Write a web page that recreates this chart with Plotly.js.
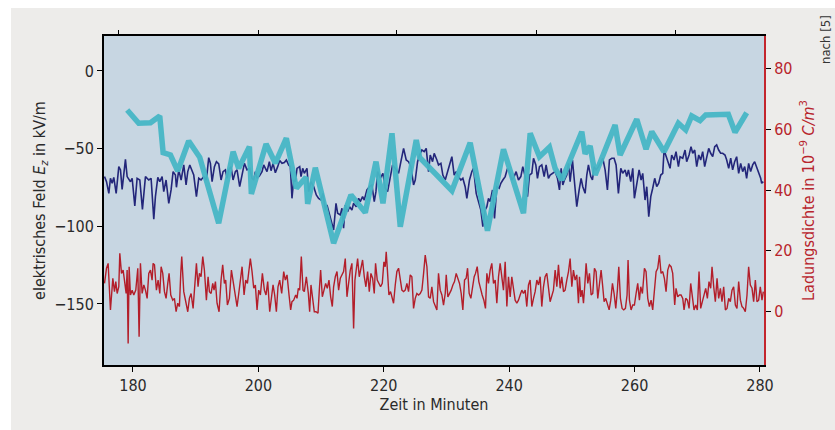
<!DOCTYPE html>
<html>
<head>
<meta charset="utf-8">
<script src="https://cdn.plot.ly/plotly-3.0.1.min.js"></script>
<style>html,body{margin:0;padding:0;background:#fff;}#chart{width:835px;height:430px;}</style>
</head>
<body>
<div id="chart"></div>
<script>
// ---- data (time in minutes) ----
const xTicks = [180, 200, 220, 240, 260, 280];
const topTicks = [177.7, 200.0, 222.1, 244.4, 266.5];
const leftTicks = [0, -50, -100, -150];
const rightTicks = [0, 20, 40, 60, 80];

// electric field Ez (kV/m), dark blue
const fieldT = [175.46,175.78,176.15,176.41,176.68,176.94,177.32,177.74,178.01,178.27,178.80,179.07,179.60,179.87,180.29,180.66,181.09,181.51,181.99,182.52,182.89,183.32,183.58,183.96,184.28,184.65,184.91,185.28,185.71,186.08,186.40,186.77,186.93,187.30,187.68,188.10,188.47,188.74,189.06,189.43,189.69,190.12,190.49,190.86,191.29,191.71,192.08,192.35,192.62,192.99,193.31,193.68,194.05,194.37,194.74,195.01,195.27,195.64,195.96,196.33,196.60,197.02,197.40,197.77,198.19,198.62,198.99,199.26,199.52,199.79,200.16,200.58,200.85,201.11,201.38,201.75,202.02,202.34,202.71,203.08,203.40,203.77,204.14,204.46,204.83,205.10,205.36,205.63,205.90,206.16,206.59,206.80,207.07,207.33,207.75,208.02,208.39,208.82,209.24,209.61,209.99,210.30,210.68,210.94,211.21,211.58,212.00,212.38,212.64,213.07,
213.33,213.59,213.86,214.23,214.55,214.92,215.19,215.61,215.99,216.25,216.62,216.89,217.31,217.74,218.11,218.48,218.75,219.01,219.44,219.86,220.23,220.61,221.03,221.40,221.83,222.36,222.73,223.16,223.58,223.95,224.33,224.75,225.02,225.39,225.71,226.08,226.45,226.77,227.14,227.41,227.78,228.04,228.47,228.73,229.11,229.42,229.80,230.17,230.49,230.86,231.23,231.55,231.92,232.29,232.61,232.98,233.25,233.67,234.05,234.31,234.74,235.11,235.48,235.80,236.17,236.44,236.70,236.97,237.34,237.66,238.03,238.40,238.67,238.99,239.36,239.73,240.05,240.42,240.79,241.11,241.48,241.86,242.17,242.55,242.92,243.24,243.61,243.88,244.25,244.51,244.83,245.20,245.58,245.89,246.26,246.53,
246.96,247.33,247.70,248.02,248.29,248.55,248.82,249.19,249.46,249.72,250.09,250.41,250.78,251.16,251.47,251.74,252.11,252.38,252.64,253.01,253.28,253.55,253.86,254.24,254.61,254.93,255.30,255.67,255.99,256.36,256.73,257.05,257.42,257.80,258.11,258.49,258.75,259.02,259.39,259.71,259.97,260.35,260.72,261.04,261.30,261.67,261.94,262.26,262.58,262.89,263.21,263.53,263.85,264.17,264.49,264.70,265.02,265.39,265.66,265.92,266.29,266.61,266.99,267.25,267.68,268.05,268.31,268.69,269.00,269.27,269.59,269.91,270.23,270.54,270.86,271.18,271.50,271.82,272.14,272.46,272.78,273.09,273.41,273.73,274.05,274.42,274.69,275.01,275.33,275.64,275.96,276.28,276.60,276.92,277.24,277.56,277.87,278.19,278.51,278.83,279.15,279.47,279.79,280.11,280.27,280.53];
const fieldE = [-68.0,-71.3,-78.8,-69.1,-72.3,-68.5,-78.8,-61.6,-63.7,-76.2,-56.9,-68.0,-71.3,-69.1,-86.9,-69.1,-70.2,-89.1,-68.0,-70.2,-69.1,-95.5,-80.9,-68.5,-71.3,-68.0,-77.7,-70.2,-85.2,-76.6,-64.8,-67.0,-74.9,-63.7,-70.2,-60.5,-73.4,-64.8,-60.5,-64.8,-67.0,-80.9,-69.1,-70.2,-68.0,-70.2,-55.8,-59.5,-71.3,-61.6,-58.4,-59.9,-70.2,-64.8,-63.7,-69.1,-63.7,-61.6,-70.2,-64.8,-63.7,-74.5,-65.9,-59.5,-63.7,-62.7,-69.1,-70.2,-64.8,-69.1,-67.6,-64.8,-60.5,-62.7,-64.8,-58.4,-64.2,-59.5,-65.5,-61.6,-57.7,-59.5,-59.0,-57.3,-60.5,-61.6,-82.0,-70.2,-71.3,-62.7,-61.6,-68.0,-62.7,-65.9,-62.7,-77.7,-71.3,-74.5,-79.8,-82.0,-83.1,-78.8,-89.5,-86.3,-90.6,-94.9,-102.4,-85.2,-91.6,-92.7,
-88.4,-101.3,-86.3,-90.6,-87.4,-89.5,-85.2,-87.4,-82.0,-84.1,-80.9,-83.1,-76.6,-74.5,-73.4,-84.1,-77.7,-64.8,-69.1,-65.9,-75.5,-77.7,-68.0,-60.5,-62.7,-65.9,-58.4,-49.8,-57.3,-58.4,-61.6,-73.4,-70.2,-58.4,-54.1,-50.9,-51.9,-49.8,-64.8,-54.1,-58.4,-53.0,-57.3,-60.5,-59.5,-67.0,-70.2,-64.8,-59.5,-55.2,-67.0,-64.8,-68.0,-70.2,-69.1,-74.5,-82.0,-70.2,-64.8,-62.7,-78.8,-85.2,-89.5,-100.2,-89.5,-87.4,-82.0,-84.1,-76.6,-94.9,-74.5,-75.5,-72.3,-70.2,-68.0,-62.7,-64.8,-70.2,-68.0,-64.8,-70.2,-68.0,-61.6,-68.0,-80.9,-67.0,-65.9,-56.2,-60.5,-69.1,-61.6,-60.5,-68.0,-60.5,-69.1,-67.0,
-65.9,-64.8,-69.1,-76.6,-62.7,-73.4,-70.2,-67.0,-59.5,-71.3,-57.3,-71.3,-87.4,-76.6,-69.1,-74.5,-78.8,-67.0,-60.5,-68.0,-70.2,-61.6,-63.7,-61.6,-58.4,-56.2,-63.7,-76.6,-57.3,-56.2,-56.2,-60.5,-78.8,-62.7,-65.9,-63.7,-68.0,-63.7,-71.3,-62.7,-82.0,-71.3,-63.7,-70.2,-65.9,-83.1,-74.5,-93.8,-80.9,-75.5,-69.1,-74.5,-72.3,-67.0,-65.9,-50.9,-55.2,-60.5,-62.7,-54.1,-57.3,-51.9,-61.6,-55.2,-56.2,-50.9,-58.4,-54.1,-48.7,-53.0,-50.9,-61.6,-54.1,-57.3,-51.9,-61.6,-55.2,-49.8,-53.0,-55.2,-48.7,-47.6,-50.9,-53.0,-53.0,-54.1,-57.3,-62.7,-56.2,-63.7,-58.4,-55.2,-65.9,-59.5,-64.8,-61.6,-69.1,-59.5,-64.8,-60.5,-58.4,-61.6,-64.8,-69.1,-72.3,-71.3];

// second field series (thick cyan), kV/m
const cyanT = [179.08,180.92,182.79,184.27,184.81,185.98,187.14,188.89,190.65,193.67,195.97,196.86,198.57,198.88,201.23,202.71,204.46,206.06,207.60,207.86,209.08,212.00,214.77,217.05,218.76,219.87,221.31,222.63,225.18,225.71,230.87,233.78,236.54,239.09,242.28,243.35,244.83,246.42,247.33,248.40,251.58,252.11,252.91,253.71,256.89,257.69,260.35,261.83,262.74,264.70,266.98,268.16,269.11,270.44,271.35,274.95,276.02,277.88];
const cyanE = [-25.1,-33.7,-33.3,-29.0,-52.6,-54.1,-64.4,-45.1,-55.6,-98.1,-52.0,-62.7,-48.7,-79.2,-47.0,-59.4,-43.3,-75.5,-68.4,-85.6,-62.3,-110.9,-79.8,-91.2,-58.4,-85.2,-40.1,-100.3,-44.4,-55.6,-77.1,-46.2,-102.8,-50.4,-91.6,-40.1,-55.2,-49.1,-62.7,-70.2,-39.1,-53.4,-48.3,-67.0,-34.8,-54.1,-31.1,-50.4,-39.1,-52.0,-33.7,-38.0,-29.0,-32.0,-28.3,-27.9,-39.5,-26.9];

// charge density (1e-9 C/m^3), red
const chargeT = [175.46,175.78,176.04,176.41,176.79,177.05,177.26,177.48,177.74,177.90,178.17,178.43,178.64,178.91,179.07,179.23,179.39,179.60,179.87,180.13,180.45,180.77,180.98,181.19,181.46,181.73,181.99,182.26,182.52,182.79,183.05,183.21,183.43,183.74,184.01,184.28,184.49,184.75,185.02,185.28,185.55,185.76,186.03,186.35,186.61,186.88,187.14,187.41,187.62,187.78,188.10,188.42,188.74,189.00,189.27,189.59,189.85,190.12,190.38,190.60,190.86,191.13,191.39,191.71,191.98,192.19,192.46,192.72,192.93,193.15,193.41,193.73,194.05,194.31,194.58,194.79,195.06,195.38,195.70,195.96,196.23,196.60,196.87,197.13,197.40,197.72,197.98,198.25,198.51,198.72,198.99,199.26,199.52,199.79,200.05,200.32,200.64,200.96,201.22,201.49,201.81,202.07,202.34,202.60,202.87,203.13,203.40,203.72,204.04,204.30,204.57,204.89,205.15,205.36,205.63,205.95,206.16,206.37,206.59,206.85,207.12,207.33,207.65,207.97,208.18,208.39,208.66,208.92,209.19,209.51,209.72,209.93,210.20,210.46,210.73,210.99,211.26,211.53,211.79,212.00,212.27,212.54,212.80,213.07,
213.59,213.86,214.13,214.39,214.66,214.92,215.19,215.40,215.61,215.83,216.09,216.36,216.62,216.89,217.15,217.42,217.69,217.95,218.22,218.48,218.69,218.96,219.23,219.49,219.76,220.02,220.23,220.39,220.61,220.82,221.08,221.35,221.56,221.83,222.09,222.36,222.63,222.89,223.16,223.42,223.69,223.95,224.22,224.48,224.75,225.02,225.28,225.55,225.81,226.08,226.35,226.61,226.88,227.14,227.41,227.67,227.94,228.20,228.47,228.73,229.00,229.27,229.53,229.80,229.96,230.22,230.49,230.75,231.02,231.28,231.55,231.82,232.08,232.35,232.61,232.88,233.14,233.36,233.62,233.89,234.15,234.42,234.63,234.90,235.16,235.43,235.69,235.96,236.22,236.44,236.70,236.97,237.23,237.50,237.77,238.03,238.30,238.56,238.83,239.09,239.36,239.63,239.89,240.16,240.42,240.69,240.95,241.22,241.48,241.75,242.02,242.28,242.55,242.81,243.08,243.34,243.61,243.88,244.14,244.41,244.67,244.94,245.20,245.47,245.73,246.00,246.26,246.53,
247.06,247.33,247.60,247.86,248.13,248.39,248.66,248.92,249.19,249.46,249.72,249.99,250.25,250.52,250.78,251.05,251.21,251.42,251.63,251.85,252.06,252.27,252.54,252.80,253.07,253.33,253.60,253.86,254.13,254.40,254.66,254.87,255.14,255.40,255.67,255.94,256.20,256.47,256.73,257.00,257.26,257.48,257.74,258.01,258.27,258.54,258.80,258.96,259.18,259.44,259.71,259.97,260.24,260.50,260.77,260.98,261.25,261.57,261.83,262.10,262.36,262.63,262.89,263.16,263.43,263.69,263.96,264.22,264.49,264.75,265.02,265.29,265.55,265.82,266.08,266.40,266.61,266.88,267.15,267.41,267.68,267.89,268.15,268.42,268.69,268.95,269.22,269.48,269.75,270.01,270.28,270.54,270.81,271.08,271.34,271.61,271.87,272.14,272.35,272.62,272.88,273.15,273.41,273.68,273.94,274.21,274.48,274.74,275.01,275.27,275.54,275.80,276.07,276.33,276.60,276.87,277.13,277.40,277.66,277.93,278.19,278.46,278.73,278.99,279.26,279.52,279.79,280.05,280.32,280.53];
const chargeQ = [9.3,14.3,15.9,0.6,11.0,6.6,9.9,6.0,8.2,19.2,12.6,13.7,10.4,6.0,13.7,-10.4,14.8,5.5,7.1,5.5,7.1,14.3,-8.2,15.9,6.0,8.8,7.1,4.4,12.6,13.7,10.4,15.9,15.4,7.1,10.4,6.0,14.8,12.6,6.6,4.4,9.3,12.6,5.5,3.8,4.4,0.0,2.8,1.7,12.6,18.1,6.6,3.8,0.0,4.4,6.0,1.1,8.2,15.9,8.2,12.6,11.5,18.1,13.7,3.8,11.5,6.6,6.0,9.3,7.1,9.9,2.8,0.0,10.4,15.4,9.3,10.4,2.2,4.4,13.7,10.4,6.0,1.7,6.0,10.4,14.8,5.5,10.4,9.3,14.3,17.5,13.2,7.7,8.8,0.6,7.1,5.5,12.6,7.1,5.5,9.9,0.0,4.9,8.8,5.5,0.0,8.2,10.4,6.0,13.2,10.4,12.1,5.5,0.6,3.3,3.8,5.5,4.4,7.7,7.1,18.1,7.1,6.6,11.5,6.0,0.0,8.8,4.9,0.0,0.0,-0.5,7.1,13.7,4.9,7.1,9.3,7.7,10.4,4.9,1.7,8.2,11.5,13.2,7.1,11.0,
13.2,17.5,4.9,9.3,13.7,15.9,-5.5,10.4,13.2,17.5,11.5,14.8,17.0,11.5,8.2,13.2,6.6,12.6,11.0,6.0,15.9,10.4,9.3,8.2,9.3,16.4,14.8,19.7,12.6,5.5,6.6,4.9,2.8,8.8,13.2,14.3,9.9,7.1,6.6,7.1,9.3,6.6,12.1,11.5,1.1,4.4,6.0,5.5,6.0,7.1,12.6,18.6,14.8,4.9,4.4,8.2,3.3,2.2,0.6,12.6,7.1,5.5,2.2,6.0,12.1,4.9,6.0,7.1,8.8,9.9,12.6,11.0,9.3,6.0,0.6,10.4,11.0,14.3,6.0,4.4,7.7,11.5,12.6,14.8,9.9,7.1,5.5,3.8,1.1,12.6,9.3,13.7,15.9,9.3,10.4,2.8,11.5,15.9,11.5,7.1,16.4,1.7,11.5,4.9,11.5,8.2,3.8,2.8,3.8,5.5,7.1,6.0,7.1,1.7,8.8,10.4,1.7,4.4,6.6,10.4,8.8,11.5,1.7,8.2,11.5,12.6,8.8,3.3,
7.1,13.7,8.2,15.4,7.7,11.5,6.6,7.1,10.4,13.2,17.5,8.2,13.7,10.4,12.1,2.8,11.5,4.9,7.1,2.8,8.8,15.9,9.3,12.6,5.5,6.0,14.3,13.2,4.4,10.4,13.7,9.3,3.3,4.4,2.8,0.6,3.8,9.3,6.0,1.1,7.1,14.8,4.4,1.1,0.6,1.1,5.5,17.0,3.8,0.6,2.2,2.2,6.0,9.3,3.8,8.2,6.0,14.3,13.2,4.4,1.7,3.8,0.6,7.1,13.2,14.3,18.6,12.6,13.2,11.0,6.6,13.7,15.4,14.8,12.6,2.2,7.7,4.9,5.5,5.5,4.4,0.6,4.4,3.8,1.1,9.3,3.8,0.6,2.2,0.6,13.2,1.1,3.3,5.5,7.7,4.4,9.9,7.7,14.8,8.2,3.3,11.0,4.4,7.7,3.3,8.2,0.6,1.1,4.4,3.3,7.1,8.2,2.2,1.1,9.9,3.8,1.7,1.1,0.0,5.5,14.8,8.8,7.7,3.3,10.4,3.3,3.8,8.2,3.8,6.6];

// ---- styling ----
const FONT = '"Liberation Sans Narrow", "DejaVu Sans Condensed", "Arial Narrow", sans-serif';
const RED = '#B8252D';
const xRange = [175.38, 280.64];

const traces = [
  {x: chargeT, y: chargeQ, xaxis: 'x', yaxis: 'y2', mode: 'lines',
   line: {color: '#B31E2A', width: 1.4}, hoverinfo: 'skip'},
  {x: fieldT, y: fieldE, xaxis: 'x', yaxis: 'y', mode: 'lines',
   line: {color: '#23267A', width: 1.6}, hoverinfo: 'skip'},
  {x: cyanT, y: cyanE, xaxis: 'x', yaxis: 'y', mode: 'lines',
   line: {color: '#47B6C5', width: 5.5}, opacity: 0.95, hoverinfo: 'skip'},
  {x: [topTicks[0]], y: [null], xaxis: 'x2', yaxis: 'y', mode: 'lines', hoverinfo: 'skip'}
];

const layout = {
  width: 835, height: 430,
  margin: {l: 104, r: 71, t: 36, b: 65, pad: 0},
  paper_bgcolor: '#ffffff',
  plot_bgcolor: 'rgba(0,0,0,0)',
  showlegend: false,
  font: {family: FONT, size: 16, color: '#2a2a2a'},
  xaxis: {
    range: xRange, tickvals: xTicks, ticks: 'outside', ticklen: 5, tickwidth: 1, tickcolor: '#000',
    showline: true, linecolor: '#000', linewidth: 2, showgrid: false, zeroline: false,
    title: {text: 'Zeit in Minuten', standoff: 5, font: {size: 16}}
  },
  xaxis2: {
    overlaying: 'x', side: 'top', anchor: 'y', range: xRange, tickvals: topTicks,
    ticks: 'outside', ticklen: 4, tickcolor: '#000', showticklabels: false,
    showline: true, linecolor: '#000', linewidth: 2, showgrid: false, zeroline: false
  },
  yaxis: {
    range: [-189.3, 22.5], tickvals: leftTicks, ticks: 'outside', ticklen: 5, tickcolor: '#000',
    showline: true, linecolor: '#000', linewidth: 2, showgrid: false, zeroline: false,
    title: {text: 'elektrisches Feld <i>E<sub>z</sub></i> in kV/m', standoff: 5, font: {size: 16}}
  },
  yaxis2: {
    overlaying: 'y', side: 'right', anchor: 'x', range: [-17.5, 90.6], tickvals: rightTicks,
    ticks: 'outside', ticklen: 5, tickcolor: '#000',
    showline: true, linecolor: '#C3262E', linewidth: 2, showgrid: false, zeroline: false,
    tickfont: {color: RED, size: 16},
    title: {text: 'Ladungsdichte in 10<sup>−9</sup> <i>C/m</i><sup>3</sup>', standoff: 11, font: {color: RED, size: 16}}
  },
  shapes: [
    {type: 'rect', xref: 'paper', yref: 'paper', x0: -0.1409, x1: 1.2, y0: -0.3, y1: 1.0851,
     fillcolor: '#EDECEA', line: {width: 0}, layer: 'below'},
    {type: 'rect', xref: 'paper', yref: 'paper', x0: 0, x1: 1, y0: 0, y1: 1,
     fillcolor: '#C7D6E2', line: {width: 0}, layer: 'below'}
  ],
  annotations: [
    {text: 'nach [5]', xref: 'paper', yref: 'paper', x: 1.094, y: 0.988, showarrow: false,
     textangle: -90, xanchor: 'center', yanchor: 'middle', font: {size: 13, color: '#333'}}
  ]
};

Plotly.newPlot('chart', traces, layout, {staticPlot: true, displayModeBar: false});
</script>
</body>
</html>
